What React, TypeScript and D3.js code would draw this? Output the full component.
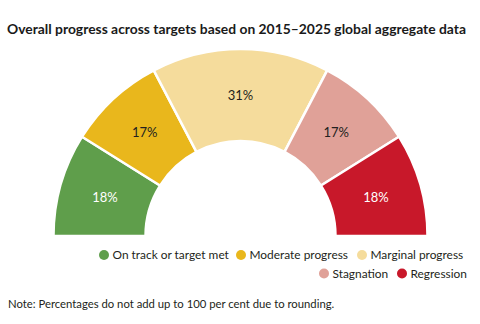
import * as d3 from 'd3';

const categories = ['On track or target met', 'Moderate progress', 'Marginal progress', 'Stagnation', 'Regression'];
const shares = [18, 17, 31, 17, 18];
const colors = ['#5f9e4b', '#e9b71c', '#f5dc9c', '#e0a198', '#c8182a'];
const labelColors = ['#ffffff', '#231f20', '#231f20', '#231f20', '#ffffff'];

const title = 'Overall progress across targets based on 2015–2025 global aggregate data';
const note = 'Note: Percentages do not add up to 100 per cent due to rounding.';

// legend rows, right aligned: [row, x of dot]
const legendPos: [number, number][] = [
    [0, 104], [0, 241], [0, 362], [1, 324], [1, 402],
];

const App = () => {
    const width = 480;
    const height = 324;
    const cx = 240.5;
    const cy = 236;
    const outer = 187;
    const inner = 95;
    const font = 'Lato, "Open Sans", sans-serif';

    const pie = d3.pie<number>()
        .sort(null)
        .startAngle(-Math.PI / 2)
        .endAngle(Math.PI / 2);

    const arc = d3.arc<d3.PieArcDatum<number>>()
        .innerRadius(inner)
        .outerRadius(outer);

    const slices = pie(shares);

    return (
        <svg width={width} height={height} style={{ position: 'absolute', left: 0, top: 0, background: '#fff' }}>
            <text x={7} y={34} textLength={459} lengthAdjust='spacingAndGlyphs'
                style={{ fontFamily: font, fontWeight: 700, fontSize: '14px', fill: '#1a1a1a' }}>
                {title}
            </text>

            <g transform={`translate(${cx},${cy})`}>
                {slices.map((s, i) => (
                    <path key={i} d={arc(s) as string} fill={colors[i]} stroke='#fff' strokeWidth={2.5} strokeLinejoin='round' />
                ))}
                {slices.map((s, i) => {
                    const [lx, ly] = arc.centroid(s);
                    return (
                        <text key={i} x={lx} y={ly} dy='0.35em' textAnchor='middle'
                            style={{ fontFamily: font, fontWeight: 400, fontSize: '13px', fill: labelColors[i] }}>
                            {`${shares[i]}%`}
                        </text>
                    );
                })}
            </g>

            {categories.map((c, i) => {
                const [row, x] = legendPos[i];
                const y = 255 + row * 18.5;
                return (
                    <g key={c}>
                        <circle cx={x} cy={y} r={5} fill={colors[i]} />
                        <text x={x + 8.5} y={y} dy='0.35em'
                            style={{ fontFamily: font, fontSize: '11.9px', fill: '#231f20' }}>
                            {c}
                        </text>
                    </g>
                );
            })}

            <text x={8} y={308} style={{ fontFamily: font, fontSize: '11.3px', fill: '#231f20' }}>
                {note}
            </text>
        </svg>
    );
};

export default App;
